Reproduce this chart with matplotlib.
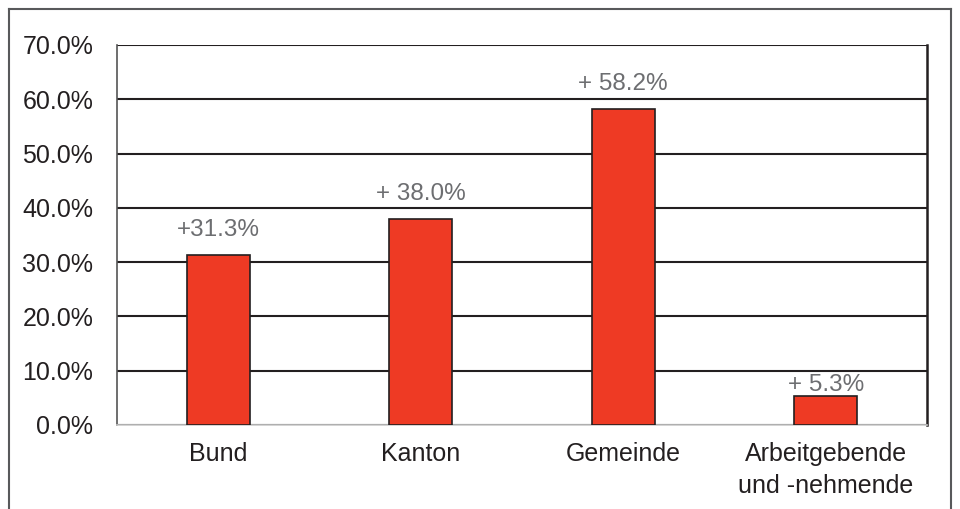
import matplotlib
matplotlib.use("Agg")
import matplotlib.pyplot as plt
from matplotlib.lines import Line2D

categories = ["Bund", "Kanton", "Gemeinde", "Arbeitgebende\nund -nehmende"]
values = [31.3, 38.0, 58.2, 5.3]
labels = ["+31.3%", "+ 38.0%", "+ 58.2%", "+ 5.3%"]
yticks = [0, 10, 20, 30, 40, 50, 60, 70]

plt.rcParams['font.family'] = ['Liberation Sans', 'DejaVu Sans']

fig = plt.figure(figsize=(9.6, 5.09), dpi=100)
ax = fig.add_axes([117/960, 1-425/509, (927-117)/960, (425-45)/509])

x = range(len(categories))
ax.bar(x, values, width=0.31, color="#EE3A24", edgecolor="#231f20", linewidth=1.2, zorder=3)
label_gap_pts = [10, 10, 10, 0]  # style: vertical gap of value labels (points)
for xi, v, lab, g in zip(x, values, labels, label_gap_pts):
    ax.annotate(lab, (xi, v), xytext=(0, g), textcoords="offset points",
                ha="center", va="bottom", fontsize=17.5, color="#6d6e71")

ax.set_xlim(-0.5, 3.5)
ax.set_ylim(0, 70)
ax.set_yticks(yticks)
ax.set_yticklabels([f"{t:.1f}%" for t in yticks], fontsize=18, color="#231f20")
ax.set_xticks(list(x))
ax.set_xticklabels(categories, fontsize=18, color="#231f20", linespacing=1.45)
ax.tick_params(axis="both", length=0)
ax.tick_params(axis="y", pad=17)
ax.tick_params(axis="x", pad=12)
ax.yaxis.grid(True, color="#231f20", linewidth=1.5, zorder=0)
ax.set_axisbelow(True)
ax.spines["top"].set_visible(False)
ax.spines["left"].set_color("#555555")
ax.spines["left"].set_linewidth(1.2)
ax.spines["right"].set_color("#231f20")
ax.spines["right"].set_linewidth(1.8)
ax.spines["bottom"].set_color("#cccccc")
ax.spines["bottom"].set_linewidth(1.2)

# outer frame
fc = "#58595b"
fig.add_artist(Line2D([9/960, 9/960], [0, 1-9/509], transform=fig.transFigure, color=fc, lw=1.5))
fig.add_artist(Line2D([9/960, 951/960], [1-9/509, 1-9/509], transform=fig.transFigure, color=fc, lw=1.5))
fig.add_artist(Line2D([951/960, 951/960], [0, 1-9/509], transform=fig.transFigure, color=fc, lw=1.5))

fig.savefig("out.png", dpi=100)
